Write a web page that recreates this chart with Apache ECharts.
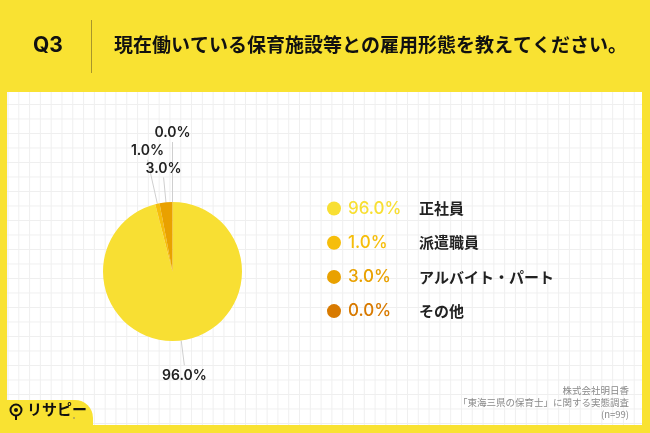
<!DOCTYPE html>
<html>
<head>
<meta charset="utf-8">
<script src="https://cdn.jsdelivr.net/npm/echarts@6/dist/echarts.min.js"></script>
<style>
  html, body { margin: 0; padding: 0; background: #F9E232; }
  #wrap { position: relative; width: 650px; height: 433px; overflow: hidden; }
  #panel {
    position: absolute; left: 7px; top: 92px; width: 635px; height: 333px;
    background-color: #fff;
    background-image:
      linear-gradient(to right, #EFEFEF 1px, transparent 1px),
      linear-gradient(to bottom, #EFEFEF 1px, transparent 1px);
    background-size: 10.8px 14.5px;
    background-position: 0.5px 12px;
  }
  #chart { position: absolute; left: 0; top: 0; width: 650px; height: 433px; }
</style>
</head>
<body>
<div id="wrap">
  <div id="panel"></div>
  <div id="chart"></div>
</div>
<script>
const categories = ["正社員", "派遣職員", "アルバイト・パート", "その他"]
const percents = [96.0, 1.0, 3.0, 0.0]

const colors = ["#F8DF33", "#F6BE0B", "#E9A100", "#D87A00"]
const lineLengths = [25, 45, 25, 60]
const numFont = "Inter, 'Noto Sans', sans-serif"
const jpFont = "'Noto Sans CJK JP', sans-serif"

const fmt = v => v.toFixed(1) + "%"

const pieData = categories.map((name, i) => ({
  name,
  value: percents[i],
  itemStyle: { color: colors[i] },
  labelLine: { length: lineLengths[i], length2: 0 }
}))

const rich = { n: { fontFamily: jpFont, fontSize: 15, fontWeight: "bold", color: "#222", lineHeight: 20 } }
colors.forEach((c, i) => {
  rich["p" + i] = { fontFamily: numFont, fontSize: 17, fontWeight: 500, color: c, width: 71, lineHeight: 20 }
})

const myChart = echarts.init(document.getElementById("chart"), null, { renderer: "canvas" })

myChart.setOption({
  backgroundColor: "transparent",
  animation: false,
  graphic: [
    { type: "text", left: 33, top: 35, style: { text: "Q3", font: "bold 21px " + numFont, fill: "#111" } },
    { type: "line", shape: { x1: 91.5, y1: 20, x2: 91.5, y2: 73 }, style: { stroke: "#A8962A", lineWidth: 1 } },
    { type: "text", left: 114, top: 35, style: { text: "現在働いている保育施設等との雇用形態を教えてください。", font: "bold 19px " + jpFont, fill: "#111" } },
    { type: "rect", shape: { x: -30, y: 400, width: 123, height: 60, r: 18 }, style: { fill: "#F9E232" } },
    { type: "circle", shape: { cx: 16, cy: 410, r: 5.5 }, style: { fill: "#F9E232", stroke: "#111", lineWidth: 2 } },
    { type: "circle", shape: { cx: 16, cy: 410, r: 2 }, style: { fill: "#111" } },
    { type: "line", shape: { x1: 16, y1: 416, x2: 16, y2: 420 }, style: { stroke: "#111", lineWidth: 2 } },
    { type: "text", left: 27, top: 402, style: { text: "リサピー", font: "bold 15px " + jpFont, fill: "#111" } },
    { type: "circle", shape: { cx: 74, cy: 418, r: 0.8 }, style: { fill: "#777" } },
    { type: "text", right: 21, top: 386, style: { text: "株式会社明日香", font: "9.5px " + jpFont, fill: "#8A8A8A", align: "right" } },
    { type: "text", right: 21, top: 398, style: { text: "「東海三県の保育士」に関する実態調査", font: "9.5px " + jpFont, fill: "#8A8A8A", align: "right" } },
    { type: "text", right: 21, top: 410, style: { text: "(n=99)", font: "9.5px " + jpFont, fill: "#8A8A8A", align: "right" } }
  ],
  legend: {
    orient: "vertical",
    left: 322,
    top: 195,
    itemWidth: 14,
    itemHeight: 14,
    itemGap: 17.2,
    icon: "circle",
    selectedMode: false,
    data: categories,
    formatter: name => {
      const i = categories.indexOf(name)
      return "{p" + i + "|" + fmt(percents[i]) + "}{n|" + name + "}"
    },
    textStyle: { rich, padding: [0, 0, 0, 2] }
  },
  series: [
    {
      type: "pie",
      center: [172.5, 271.5],
      radius: [0, 69.5],
      startAngle: 90,
      clockwise: true,
      avoidLabelOverlap: false,
      emphasis: { disabled: true },
      label: {
        show: true,
        position: "outside",
        formatter: p => fmt(p.value),
        fontFamily: numFont,
        fontSize: 14,
        fontWeight: 600,
        color: "#222"
      },
      labelLine: { show: true, lineStyle: { color: "#CFCFCF", width: 1 } },
      labelLayout: params => {
        const pts = params.labelLinePoints
        if (!pts) return {}
        const end = pts[pts.length - 1]
        const down = end[1] > pts[0][1]
        return {
          x: end[0],
          y: down ? end[1] + 4 : end[1] - 2,
          align: "center",
          verticalAlign: down ? "top" : "bottom",
          labelLinePoints: pts
        }
      },
      data: pieData
    }
  ]
})

window.addEventListener("resize", () => {
  myChart.resize()
})
</script>
</body>
</html>
